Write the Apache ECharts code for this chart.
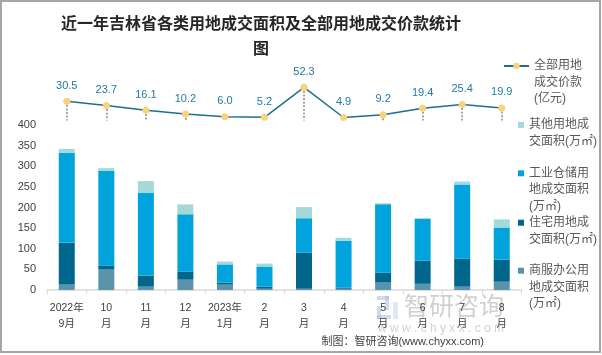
<!DOCTYPE html>
<html><head><meta charset="utf-8">
<script src="https://cdn.jsdelivr.net/npm/echarts@6/dist/echarts.min.js"></script>
<style>html,body{margin:0;padding:0;background:#fff}#c{width:602px;height:355px}</style>
</head><body><div id="c"></div>
<script>
var categories = ['2022年\n9月','10\n月','11\n月','12\n月','2023年\n1月','2\n月','3\n月','4\n月','5\n月','6\n月','7\n月','8\n月'];
var commercial = [13, 49.5, 8, 25, 13, 3, 3, 3, 18, 15, 8, 20];
var residential = [102, 10, 27, 19.5, 5, 5, 88, 2.5, 24, 56, 68, 53.5];
var industrial = [217, 229, 200, 139, 44, 49, 83, 114, 166, 102, 180, 78];
var other = [10, 7, 29, 24, 7, 7, 27, 7, 2.5, 0, 7, 19.5];
var price = [30.5, 23.7, 16.1, 10.2, 6.0, 5.2, 52.3, 4.9, 9.2, 19.4, 25.4, 19.9];
var seriesNames = ['全部用地成交价款(亿元)','其他用地成交面积(万㎡)','工业仓储用地成交面积(万㎡)','住宅用地成交面积(万㎡)','商服办公用地成交面积(万㎡)'];
var legendLabels = ['全部用地\n成交价款\n(亿元)','其他用地成\n交面积(万㎡)','工业仓储用\n地成交面积\n(万㎡)','住宅用地成\n交面积(万㎡)','商服办公用\n地成交面积\n(万㎡)'];
var yTicks = {min: 0, max: 400, interval: 50};

var FONT = '"Liberation Sans", "Noto Sans CJK SC", sans-serif';
var LH = 16.5;
var legendIconY = [66, 125, 173.3, 222.7, 270.7];

function mkLegend(i) {
  var n = legendLabels[i].split('\n').length;
  var isLine = i === 0;
  // blank leading lines so the first text line sits level with the icon
  var shown = new Array(n).join('\n') + legendLabels[i];
  return {
    data: [seriesNames[i]],
    orient: 'vertical',
    left: isLine ? 503 : 518,
    top: legendIconY[i] - (2 * n - 1) * LH / 2,
    padding: 0,
    itemWidth: isLine ? 25 : 6,
    itemHeight: isLine ? 8 : 6,
    icon: isLine ? undefined : 'rect',
    selectedMode: false,
    formatter: function () { return shown; },
    textStyle: {fontSize: 12, color: '#595959', fontFamily: FONT, lineHeight: LH}
  };
}

var chart = echarts.init(document.getElementById('c'), null, {renderer: 'canvas'});
var barColors = ['#5B93AA', '#00668C', '#00A3DB', '#A3D9D8'];
var option = {
  animation: false,
  backgroundColor: '#fff',
  textStyle: {fontFamily: FONT},
  grid: [
    {left: 47, right: 80.5, top: 125, bottom: 65},
    {left: 47, right: 80.5, top: 82.4, height: 38.2}
  ],
  xAxis: [
    {type: 'category', gridIndex: 0, data: categories,
     axisLine: {lineStyle: {color: '#d9d9d9', width: 1.5}},
     axisTick: {show: true, length: 4, lineStyle: {color: '#d9d9d9'}},
     axisLabel: {fontSize: 10.5, color: '#404040', lineHeight: 16, margin: 10, interval: 0, fontFamily: FONT},
     splitLine: {show: false}},
    {type: 'category', gridIndex: 1, data: categories, show: false}
  ],
  yAxis: [
    {type: 'value', gridIndex: 0, min: yTicks.min, max: yTicks.max, interval: yTicks.interval,
     axisLine: {show: false}, axisTick: {show: false}, splitLine: {show: false},
     axisLabel: {fontSize: 11, color: '#404040', margin: 11, fontFamily: FONT}},
    {type: 'value', gridIndex: 1, min: 0, max: 60, show: false, splitLine: {show: false}}
  ],
  legend: [0, 1, 2, 3, 4].map(mkLegend),
  series: [
    {name: seriesNames[0], type: 'line', xAxisIndex: 1, yAxisIndex: 1, data: price, z: 5,
     symbol: 'circle', symbolSize: 7,
     lineStyle: {color: '#1F6E8F', width: 1.5},
     itemStyle: {color: '#F9D27C', borderWidth: 0},
     label: {show: true, position: 'top', distance: 6.5, fontSize: 11, color: '#2179A6', fontFamily: FONT,
             formatter: function (p) { return Number(p.value).toFixed(1); }},
     markLine: {silent: true, symbol: 'none', label: {show: false},
       lineStyle: {color: '#A6A6A6', width: 2, type: [2, 1.6]},
       data: price.map(function (v, i) { return [{coord: [i, v]}, {coord: [i, 0]}]; })}
    },
    {name: seriesNames[4], type: 'bar', stack: 'a', data: commercial, barWidth: 16, itemStyle: {color: barColors[0]}},
    {name: seriesNames[3], type: 'bar', stack: 'a', data: residential, barWidth: 16, itemStyle: {color: barColors[1]}},
    {name: seriesNames[2], type: 'bar', stack: 'a', data: industrial, barWidth: 16, itemStyle: {color: barColors[2]}},
    {name: seriesNames[1], type: 'bar', stack: 'a', data: other, barWidth: 16, itemStyle: {color: barColors[3]}}
  ],
  graphic: [
    {type: 'text', style: {text: '近一年吉林省各类用地成交面积及全部用地成交价款统计\n图', x: 261, y: 10, textAlign: 'center', font: 'bold 16px "Noto Sans CJK SC"', lineHeight: 25.6, fill: '#262626'}},
    {type: 'text', style: {text: '制图：智研咨询(www.chyxx.com)', x: 484, y: 342.3, textAlign: 'right', textVerticalAlign: 'middle', font: '11px ' + FONT, fill: '#404040'}},
    {type: 'group', silent: true, z: 100, children: [
      {type: 'rect', shape: {x: 377, y: 296, width: 12, height: 4}, style: {fill: 'rgba(170,190,220,0.55)'}},
      {type: 'rect', shape: {x: 385, y: 296, width: 4, height: 14}, style: {fill: 'rgba(170,190,220,0.55)'}},
      {type: 'rect', shape: {x: 377, y: 306, width: 4, height: 13}, style: {fill: 'rgba(170,190,220,0.55)'}},
      {type: 'rect', shape: {x: 377, y: 315, width: 14, height: 4}, style: {fill: 'rgba(170,190,220,0.55)'}},
      {type: 'rect', shape: {x: 393, y: 302, width: 5, height: 17}, style: {fill: 'rgba(190,215,240,0.55)'}},
      {type: 'text', style: {text: '智研咨询', x: 454, y: 305, textAlign: 'center', textVerticalAlign: 'middle', font: '25px "Noto Sans CJK SC"', fill: 'rgba(170,170,170,0.55)'}},
      {type: 'text', style: {text: 'w w w . c h y x x . c o m', x: 441, y: 329, textAlign: 'center', textVerticalAlign: 'middle', font: '12px ' + FONT, fill: 'rgba(170,170,170,0.55)'}}
    ]},
    {type: 'rect', silent: true, z: 100, shape: {x: 1, y: 1, width: 599, height: 351}, style: {fill: 'none', stroke: '#A6A6A6', lineWidth: 2}}
  ]
};
chart.setOption(option);
</script>
</body></html>
